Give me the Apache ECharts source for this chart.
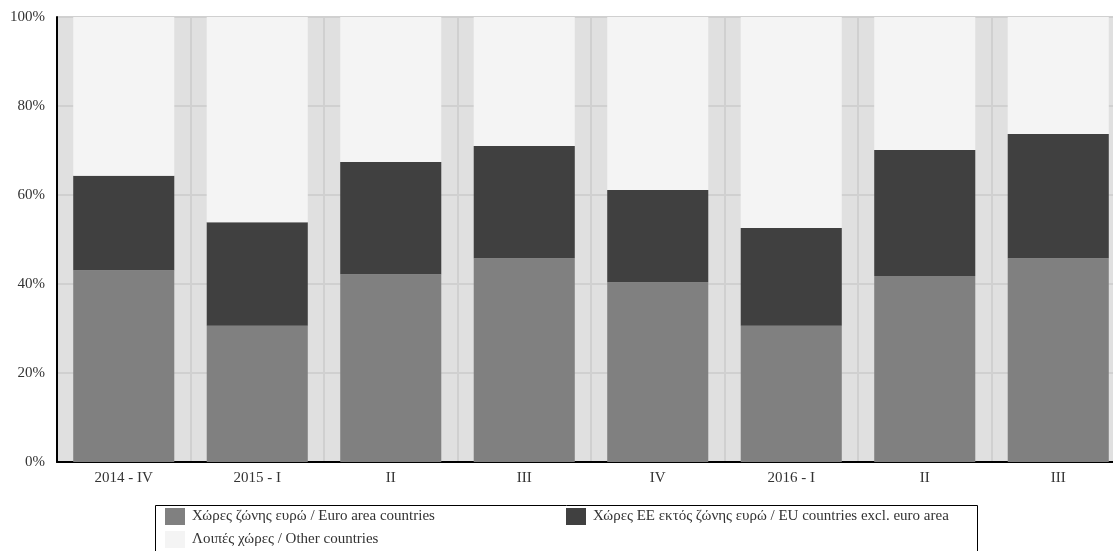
<!DOCTYPE html>
<html>
<head>
<meta charset="utf-8">
<script src="https://cdn.jsdelivr.net/npm/echarts@6/dist/echarts.min.js"></script>
<style>
html,body{margin:0;padding:0;background:#fff;overflow:hidden;width:1113px;height:551px;}
#chart{width:1126px;height:551px;}
</style>
</head>
<body>
<div id="chart"></div>
<script>
const categories = ['2014 - IV', '2015 - I', 'II', 'III', 'IV', '2016 - I', 'II', 'III'];
const seriesNames = [
  'Χώρες ζώνης ευρώ / Euro area countries',
  'Χώρες ΕΕ εκτός ζώνης ευρώ / EU countries excl. euro area',
  'Λοιπές χώρες / Other countries'
];
const euroArea = [43.1, 30.6, 42.2, 45.8, 40.4, 30.6, 41.8, 45.8];
const euNonEuro = [21.2, 23.3, 25.2, 25.2, 20.7, 22.0, 28.3, 27.9];
const otherCountries = [35.7, 46.1, 32.6, 29.0, 38.9, 47.4, 29.9, 26.3];
const colors = ['#808080', '#404040', '#f4f4f4'];

const FONT = '"Liberation Serif", "DejaVu Serif", serif';
const chart = echarts.init(document.getElementById('chart'), null, {renderer: 'canvas'});

const dataSets = [euroArea, euNonEuro, otherCountries];
const legendBase = {
  padding: 0,
  itemWidth: 20, itemHeight: 17, itemGap: 6,
  icon: 'rect',
  selectedMode: false,
  textStyle: {fontFamily: FONT, fontSize: 15, color: '#333', padding: [0, 0, 0, 2]}
};
chart.setOption({
  animation: false,
  backgroundColor: '#ffffff',
  textStyle: {fontFamily: FONT},
  grid: {
    left: 57, top: 17, right: 1, height: 445,
    show: true, backgroundColor: '#e0e0e0', borderWidth: 0, containLabel: false
  },
  legend: [
    Object.assign({}, legendBase, {left: 165, top: 508, orient: 'vertical', data: [seriesNames[0], seriesNames[2]]}),
    Object.assign({}, legendBase, {left: 566, top: 508, orient: 'horizontal', data: [seriesNames[1]]})
  ],
  graphic: [{
    type: 'rect',
    silent: true,
    shape: {x: 155.5, y: 505.5, width: 822, height: 60},
    style: {fill: 'none', stroke: '#000', lineWidth: 1}
  }],
  xAxis: {
    type: 'category',
    data: categories,
    boundaryGap: true,
    axisLine: {show: true, lineStyle: {color: '#000', width: 2}},
    axisTick: {show: false},
    axisLabel: {fontFamily: FONT, fontSize: 15, color: '#333', margin: 9, interval: 0},
    splitLine: {show: true, lineStyle: {color: '#d0d0d0', width: 2}}
  },
  yAxis: {
    type: 'value',
    min: 0, max: 100, interval: 20,
    axisLine: {show: true, lineStyle: {color: '#000', width: 2}},
    axisTick: {show: false},
    axisLabel: {fontFamily: FONT, fontSize: 15, color: '#333', margin: 12, formatter: '{value}%'},
    splitLine: {show: true, lineStyle: {color: '#d0d0d0', width: 2}}
  },
  series: seriesNames.map((n, i) => ({
    name: n,
    type: 'bar',
    stack: 'total',
    barWidth: '75.7%',
    itemStyle: {color: colors[i]},
    emphasis: {disabled: true},
    data: dataSets[i]
  }))
});
</script>
</body>
</html>
